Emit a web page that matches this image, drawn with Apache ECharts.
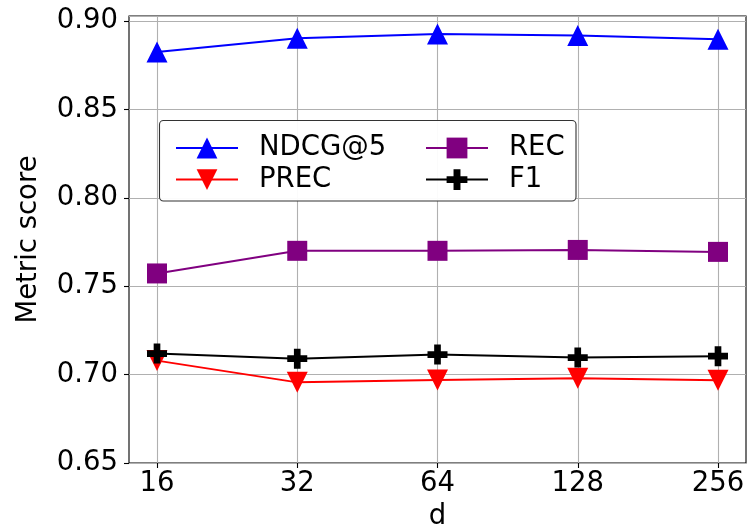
<!DOCTYPE html>
<html>
<head>
<meta charset="utf-8">
<script src="https://cdn.jsdelivr.net/npm/echarts@6/dist/echarts.min.js"></script>
<style>
html,body{margin:0;padding:0;background:#fff;}
#c{width:748px;height:530px;}
</style>
</head>
<body>
<div id="c"></div>
<script>
const categories = ['16', '32', '64', '128', '256'];
const ndcg = [0.8825, 0.8902, 0.8926, 0.8918, 0.8897];
const prec = [0.7079, 0.6956, 0.6970, 0.6979, 0.6968];
const rec  = [0.7572, 0.7700, 0.7700, 0.7705, 0.7694];
const f1   = [0.7119, 0.7090, 0.7113, 0.7096, 0.7104];
const yTicks = [0.65, 0.70, 0.75, 0.80, 0.85, 0.90];

const FONT = 'DejaVu Sans';
const FS = 27.5;
const YMIN = 0.65, YMAX = 0.9028;

const plusPath = 'path://M-1,-3L1,-3L1,-1L3,-1L3,1L1,1L1,3L-1,3L-1,1L-3,1L-3,-1L-1,-1Z';
const downTri = 'path://M0,0L2,0L1,2Z';

function mk(name, data, color, symbol, size) {
  return {
    name: name, type: 'line', data: data,
    xAxisIndex: 1, yAxisIndex: 1,
    symbol: symbol, symbolSize: size,
    showAllSymbol: true,
    lineStyle: {color: color, width: 2},
    itemStyle: {color: color},
    emphasis: {disabled: true},
    animation: false
  };
}

const chart = echarts.init(document.getElementById('c'), null, {renderer: 'canvas'});
chart.setOption({
  animation: false,
  backgroundColor: '#fff',
  textStyle: {fontFamily: FONT},
  grid: [
    {left: 129, right: 2, top: 16, bottom: 67, show: true, borderColor: '#000', borderWidth: 1.1,
     backgroundColor: 'transparent', containLabel: false, outerBoundsMode: 'none'},
    {left: 157, right: 30, top: 16, bottom: 67, containLabel: false, outerBoundsMode: 'none'}
  ],
  xAxis: [
    {gridIndex: 0, type: 'value', min: 0, max: 1, show: true,
     axisLine: {show: false}, axisTick: {show: false}, axisLabel: {show: false}, splitLine: {show: false}},
    {gridIndex: 1, type: 'category', data: categories, boundaryGap: false,
     axisLine: {show: false},
     axisTick: {show: true, inside: false, length: 5, lineStyle: {color: '#000', width: 1.1}, alignWithLabel: true},
     axisLabel: {color: '#000', fontSize: FS, fontFamily: FONT, margin: 7, lineHeight: 28},
     splitLine: {show: true, lineStyle: {color: '#b0b0b0', width: 1.1}},
     name: 'd', nameLocation: 'middle', nameGap: 36,
     nameTextStyle: {color: '#000', fontSize: FS, fontFamily: FONT, lineHeight: 28}}
  ],
  yAxis: [
    {gridIndex: 0, type: 'value', min: YMIN, max: YMAX, interval: 0.05,
     axisLine: {show: false},
     axisTick: {show: true, length: 5, lineStyle: {color: '#000', width: 1.1}},
     axisLabel: {color: '#000', fontSize: FS, fontFamily: FONT, margin: 11, showMaxLabel: false,
       formatter: function (v) { return yTicks.some(t => Math.abs(t - v) < 1e-6) ? v.toFixed(2) : ''; }},
     splitLine: {show: true, lineStyle: {color: '#b0b0b0', width: 1.1}},
     name: 'Metric score', nameLocation: 'middle', nameGap: 86, nameRotate: 90,
     nameTextStyle: {color: '#000', fontSize: FS, fontFamily: FONT, lineHeight: 28}},
    {gridIndex: 1, type: 'value', min: YMIN, max: YMAX, show: false,
     axisLine: {show: false}, axisTick: {show: false}, axisLabel: {show: false}, splitLine: {show: false}}
  ],
  legend: [
    {data: ['NDCG@5', 'PREC'], orient: 'vertical', left: 170, top: 129,
     itemWidth: 62, itemHeight: 26, itemGap: 3.6, z: 10,
     textStyle: {color: '#000', fontSize: FS, fontFamily: FONT, lineHeight: 28, padding: [0, 0, 0, 16]},
     selectedMode: false},
    {data: ['REC', 'F1'], orient: 'vertical', left: 420, top: 129,
     itemWidth: 62, itemHeight: 26, itemGap: 3.6, z: 10,
     textStyle: {color: '#000', fontSize: FS, fontFamily: FONT, lineHeight: 28, padding: [0, 0, 0, 16]},
     selectedMode: false}
  ],
  graphic: [
    {type: 'rect', z: 8, shape: {x: 159.5, y: 120.5, width: 416.5, height: 80.5, r: 4},
     style: {fill: 'rgba(255,255,255,0.95)', stroke: '#333', lineWidth: 1.1}}
  ],
  series: [
    mk('NDCG@5', ndcg, '#0000ff', 'triangle', 21),
    mk('PREC', prec, '#ff0000', downTri, 21),
    mk('REC', rec, '#800080', 'rect', 20),
    mk('F1', f1, '#000000', plusPath, 20)
  ]
});
</script>
</body>
</html>
